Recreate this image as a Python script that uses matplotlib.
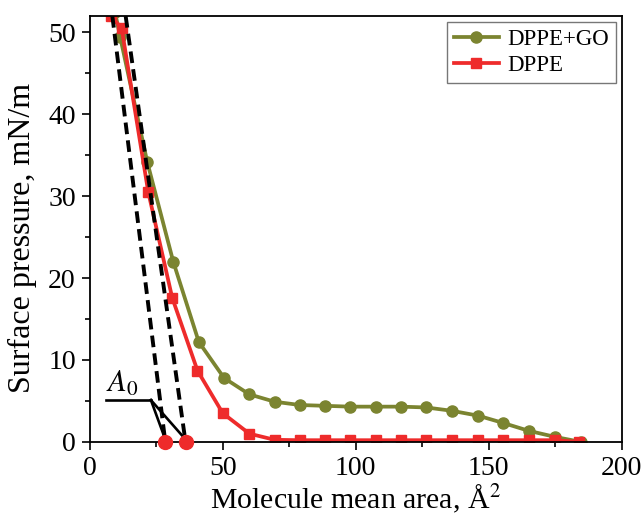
import matplotlib
matplotlib.use("Agg")
import matplotlib.pyplot as plt
from matplotlib.ticker import MultipleLocator

plt.rcParams['font.family'] = 'Liberation Serif'
plt.rcParams['mathtext.fontset'] = 'stix'

# DPPE+GO isotherm
area_go = [9.5, 11.4, 21.6, 31.4, 41, 50.5, 60, 69.5, 79, 88.5, 98, 107.5,
           117, 126.5, 136, 146, 155.5, 165, 175, 184.5]
pi_go = [52.5, 49.5, 34.2, 22, 12.2, 7.8, 5.8, 4.9, 4.5, 4.4, 4.3, 4.3,
         4.3, 4.2, 3.8, 3.2, 2.3, 1.35, 0.6, 0.0]

# DPPE isotherm
area_dppe = [8, 12, 22, 31, 40.5, 50, 60, 69.5, 79, 88.5, 98, 107.5,
             117, 126.5, 136, 146, 155.5, 165, 175, 184]
pi_dppe = [52, 50.5, 30.5, 17.6, 8.7, 3.5, 1.0, 0.25, 0.2, 0.2, 0.2, 0.2,
           0.2, 0.2, 0.2, 0.2, 0.2, 0.2, 0.2, 0.0]

# extrapolation lines (top point, A0 intercept)
ext_left = ([8.5, 28.4], [52, 0])
ext_right = ([13.5, 36], [52, 0])
a0_values = [28.4, 36]

green = '#7b8430'
red = '#ee2b2b'

fig = plt.figure(figsize=(6.41, 5.18), dpi=100)
ax = fig.add_axes([0.140, 0.147, 0.830, 0.822])

ax.plot(area_go, pi_go, '-o', color=green, lw=2.7, ms=8, label='DPPE+GO')
ax.plot(area_dppe, pi_dppe, '-s', color=red, lw=2.7, ms=7, label='DPPE')

ax.plot(*ext_left, '--', color='black', lw=2.8, dashes=(3, 1.6))
ax.plot(*ext_right, '--', color='black', lw=2.8, dashes=(3, 1.6))

# A0 pointer
ax.plot([6, 23], [5.1, 5.1], color='black', lw=1.9)
for a0 in a0_values:
    ax.plot([23, a0], [5.1, 0.3], color='black', lw=1.9)
ax.plot(a0_values, [0, 0], 'o', color=red, ms=10, clip_on=False, zorder=5)
ax.text(6, 6.1, '$A_0$', fontsize=22)

ax.set_xlim(0, 200)
ax.set_ylim(0, 52)
ax.xaxis.set_major_locator(MultipleLocator(50))
ax.xaxis.set_minor_locator(MultipleLocator(25))
ax.yaxis.set_major_locator(MultipleLocator(10))
ax.yaxis.set_minor_locator(MultipleLocator(5))
ax.tick_params(which='major', direction='out', length=6, width=1.2,
               labelsize=20, pad=4)
ax.tick_params(which='minor', direction='out', length=3.5, width=1.2)
for s in ax.spines.values():
    s.set_linewidth(1.3)

ax.set_xlabel('Molecule mean area, Å$^2$', fontsize=21.5, labelpad=1)
ax.set_ylabel('Surface pressure, mN/m', fontsize=23)
ax.yaxis.set_label_coords(-0.1, 0.48)

leg = ax.legend(loc='upper right', fontsize=16.5, frameon=True, fancybox=False,
                edgecolor='#555555', handlelength=2.0, borderaxespad=0.25,
                labelspacing=0.25, borderpad=0.3, handletextpad=0.35)
leg.get_frame().set_linewidth(1.0)

fig.savefig('out.png', dpi=100)
